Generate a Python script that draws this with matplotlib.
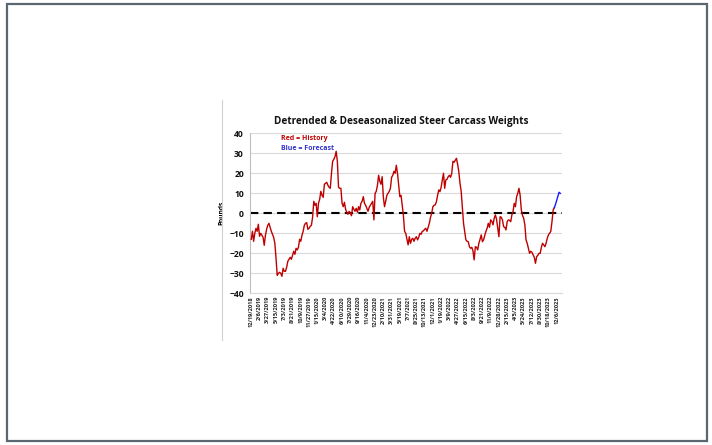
import matplotlib
matplotlib.use("Agg")
import matplotlib.pyplot as plt
from matplotlib.lines import Line2D
from matplotlib.patches import Rectangle

# ---------------- data ----------------
tick_labels = ["12/19/2018", "2/6/2019", "3/27/2019", "5/15/2019", "7/3/2019", "8/21/2019",
               "10/9/2019", "11/27/2019", "1/15/2020", "3/4/2020", "4/22/2020", "6/10/2020",
               "7/29/2020", "9/16/2020", "11/4/2020", "12/23/2020", "2/10/2021", "3/31/2021",
               "5/19/2021", "7/7/2021", "8/25/2021", "10/13/2021", "12/1/2021", "1/19/2022",
               "3/9/2022", "4/27/2022", "6/15/2022", "8/3/2022", "9/21/2022", "11/9/2022",
               "12/28/2022", "2/15/2023", "4/5/2023", "5/24/2023", "7/12/2023", "8/30/2023",
               "10/18/2023", "12/6/2023"]

history = [
    -13, -9, -14, -10, -7.5, -9, -5.5, -11.5, -10, -11,
    -12, -16, -11, -8, -6, -5, -7, -9, -10.5, -12,
    -15, -22.5, -31, -30, -29.5, -30, -31.5, -27.5, -29, -29,
    -27, -24, -23, -22, -23, -21, -19, -20.5, -17.5, -18.3,
    -17, -13, -14, -11, -9, -6, -5, -4.7, -8, -7.5,
    -6.5, -6, -2, 6, 4, 5, -1.7, 5, 7, 11,
    9, 8, 14.5, 15, 15.5, 14, 13, 12.5, 20, 26,
    27, 28.3, 31, 26, 13, 12.5, 12.5, 5, 3.3, 5.5,
    2, 0.5, -0.5, 1, 0, -1.2, 3.3, 2, 1, 2.5,
    0.5, 3.3, 1.7, 5, 6, 8.3, 5, 4, 2.5, 1,
    3, 4, 5, 6, -3.3, 10, 11, 14, 19, 16,
    14.5, 18.3, 8, 3.3, 6, 9, 10, 11, 12.5, 18,
    19, 21, 20, 24, 20, 14, 8.3, 9, 4, -1,
    -9, -10, -13, -15.8, -11.7, -15, -13, -12.5, -14, -12.5,
    -11.7, -13.3, -12, -10, -10.5, -9, -8.8, -8, -7.5, -9,
    -7, -5, -2, 0, 3.3, 4, 4.2, 5.8, 9, 11.7,
    10.8, 13, 16.7, 20, 12.5, 16.7, 17, 18.3, 19, 18,
    20, 26, 25.5, 26.5, 27.5, 24.5, 20.8, 15, 11, 3,
    -5, -9, -13.3, -14, -14.2, -16.7, -17.5, -17, -18.8, -23.3,
    -16.7, -17, -18.3, -15, -13, -10.8, -14.2, -13.3, -11, -9,
    -7.5, -5, -7, -3.3, -4, -5.8, -2.5, -0.8, -3, -7.5,
    -11.7, -1.7, -2, -3.3, -6.7, -7, -8.3, -4.2, -3.3, -3.5,
    -4.2, -0.8, 1, 5, 3.3, 8.3, 10, 12.5, 9, 1.7,
    -1, -2.5, -5.8, -13.3, -15, -17.5, -20, -19, -19.5, -20.8,
    -22, -25, -21.7, -21, -20, -20, -17, -15, -15.8, -16.7,
    -15, -12.5, -10.8, -10, -9, -4.2, 1.7, 2.8,
]
forecast = [2.8, 4.5, 6.5, 8.5, 10.5, 10]

title = "Detrended & Deseasonalized Steer Carcass Weights"
ylabel = "Pounds"
legend_red = "Red = History"
legend_blue = "Blue = Forecast"

# ---------------- figure ----------------
W, H = 712, 445
fig = plt.figure(figsize=(W / 100, H / 100), dpi=100)
fig.patch.set_facecolor("white")

# outer frame
fig.add_artist(Rectangle((7 / W, 4 / H), 700 / W, 437 / H, transform=fig.transFigure,
                         fill=False, edgecolor="#5b6770", linewidth=1.6))
# faint chart-area edge
fig.add_artist(Line2D([222 / W, 222 / W], [1 - 100 / H, 1 - 340 / H], transform=fig.transFigure,
                      color="#d0d0d0", linewidth=0.8))

ax = fig.add_axes([249.5 / W, 1 - 293.3 / H, (562 - 249.5) / W, 160 / H])

hx = list(range(len(history)))
fx = list(range(len(history) - 1, len(history) - 1 + len(forecast)))

ax.set_ylim(-40, 40)
ax.set_xlim(-1.5, 263.5)
ax.set_yticks(range(-40, 41, 10))
ax.yaxis.grid(True, color="#d9d9d9", linewidth=0.8)
ax.set_axisbelow(True)

ax.axhline(0, color="black", linestyle=(0, (4, 2.5)), linewidth=1.5, zorder=2)
ax.plot(hx, history, color="#c00000", linewidth=1.0, zorder=3)
ax.plot(fx, forecast, color="#1a1aff", linewidth=1.0, zorder=3)

for s in ["top", "right"]:
    ax.spines[s].set_visible(False)
ax.spines["left"].set_color("#bfbfbf")
ax.spines["bottom"].set_color("#d9d9d9")
ax.spines["left"].set_linewidth(0.8)
ax.spines["bottom"].set_linewidth(0.8)

ax.set_xticks(range(0, 7 * len(tick_labels), 7))
ax.set_xticklabels(tick_labels, rotation=90, fontsize=4.1, fontweight="bold",
                   fontfamily="Open Sans", color="#222222")
ax.tick_params(axis="x", length=0, pad=2)
ax.tick_params(axis="y", length=0, pad=4, labelsize=6.2, labelcolor="#111111")
for lbl in ax.get_yticklabels():
    lbl.set_fontweight("bold")
    lbl.set_fontfamily("Open Sans")

ax.set_ylabel(ylabel, fontsize=4.8, fontweight="bold", fontfamily="Open Sans", labelpad=3)

fig.text(401.5 / W, 1 - 121.5 / H, title, ha="center", va="center", fontsize=7.2,
         fontweight="bold", fontfamily="Open Sans", color="#111111")
fig.text(281 / W, 1 - 138.5 / H, legend_red, ha="left", va="center", fontsize=5.0,
         fontweight="bold", fontfamily="Open Sans", color="#c00000")
fig.text(281 / W, 1 - 148.3 / H, legend_blue, ha="left", va="center", fontsize=5.0,
         fontweight="bold", fontfamily="Open Sans", color="#3333cc")

fig.savefig("out.png", dpi=100)
